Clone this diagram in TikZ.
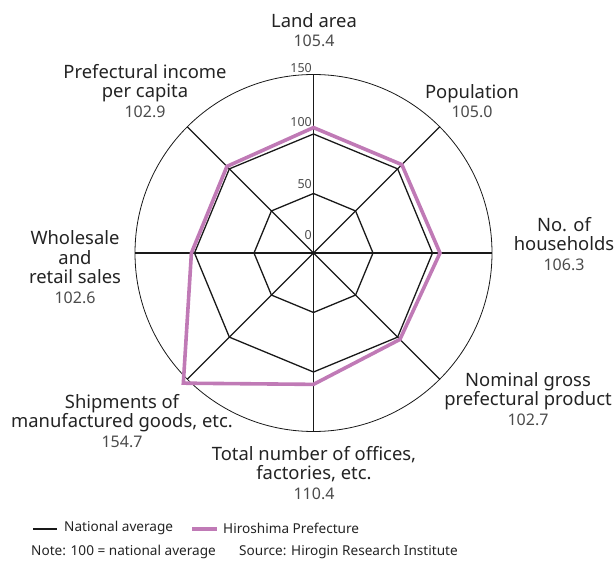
\documentclass[tikz,border=0pt]{standalone}
\usepackage{fontspec}
\setmainfont{Noto Sans}
\usepackage{xcolor}

\definecolor{hiropink}{RGB}{192,122,182}
\definecolor{titlegray}{RGB}{35,35,35}
\definecolor{valgray}{RGB}{75,75,75}

\tikzset{
  spoke/.style={line width=1.3pt, black!90},
  rim/.style={line width=0.8pt, black!90},
  hiroline/.style={line width=3.6pt, hiropink, line join=miter},
  itemlabel/.style={align=center, inner sep=0pt, text=titlegray,
    font=\fontsize{18.4}{19.5}\selectfont},
  scalelabel/.style={anchor=south east, inner sep=1.5pt, text=valgray,
    font=\fontsize{12.5}{14}\selectfont},
  keytext/.style={anchor=west, inner sep=0pt, text=titlegray,
    font=\fontsize{13.6}{16}\selectfont},
}
\newcommand{\itemval}[1]{\\{\color{valgray}\fontsize{16}{19.5}\selectfont #1}}

\begin{document}
\begin{tikzpicture}[x=1pt,y=1pt]
    \useasboundingbox (0,0) rectangle (615,560);

    \begin{scope}[shift={(313.5,307)}]
        \coordinate (o) at (0,0);
        % outer ring = 150
        \draw[rim] (o) circle (178.5);

        % spokes
        \draw[spoke] (90:178.5) -- (-90:178.5);
        \draw[spoke] (0:178.5) -- (180:178.5);
        \draw[spoke] (45:178.5) -- (225:178.5);
        \draw[spoke] (135:178.5) -- (-45:178.5);

        % national average rings (50 and 100)
        \draw[spoke] (90:59.5) -- (45:59.5) -- (0:59.5) -- (-45:59.5) -- (-90:59.5)
            -- (-135:59.5) -- (180:59.5) -- (135:59.5) -- cycle;
        \draw[spoke] (90:119) -- (45:119) -- (0:119) -- (-45:119) -- (-90:119)
            -- (-135:119) -- (180:119) -- (135:119) -- cycle;

        % Hiroshima Prefecture
        \draw[hiroline] (90:{105.4*1.19}) -- (45:{105.0*1.19}) -- (0:{106.3*1.19})
            -- (-45:{102.7*1.19}) -- (-90:{110.4*1.19}) -- (-135:{154.7*1.19})
            -- (180:{102.6*1.19}) -- (135:{102.9*1.19}) -- cycle;

        % scale
        \node[scalelabel] (s150) at (90:178.5) {150};
        \node[scalelabel] (s100) at (90:125) {100};
        \node[scalelabel] (s50) at (90:63) {50};
        \node[scalelabel] (s0) at (90:12) {0};
    \end{scope}

    % item labels
    \node[itemlabel] (landarea) at (314,530) {Land area\itemval{105.4}};
    \node[itemlabel] (population) at (472,459) {Population\itemval{105.0}};
    \node[itemlabel] (households) at (564,316) {No. of\\households\itemval{106.3}};
    \node[itemlabel] (grossproduct) at (528,161) {Nominal gross\\prefectural product\itemval{102.7}};
    \node[itemlabel] (offices) at (314,87) {Total number of offices,\\factories, etc.\itemval{110.4}};
    \node[itemlabel] (shipments) at (122,139) {Shipments of\\manufactured goods, etc.\itemval{154.7}};
    \node[itemlabel] (wholesale) at (75,293) {Wholesale\\and\\retail sales\itemval{102.6}};
    \node[itemlabel] (income) at (145,469) {Prefectural income\\per capita\itemval{102.9}};

    % legend
    \coordinate (natA) at (33,31);
    \coordinate (natB) at (57,31);
    \draw[line width=2.4pt, black!90] (natA) -- (natB);
    \node[keytext] (natkey) at (64,32) {National average};
    \coordinate (hiroA) at (192,31);
    \coordinate (hiroB) at (217,31);
    \draw[line width=3.6pt, hiropink] (hiroA) -- (hiroB);
    \node[keytext] (hirokey) at (223,32) {Hiroshima Prefecture};
    \node[keytext] (note) at (31,8) {Note: 100 = national average};
    \node[keytext] (source) at (239,8) {Source: Hirogin Research Institute};
\end{tikzpicture}
\end{document}
